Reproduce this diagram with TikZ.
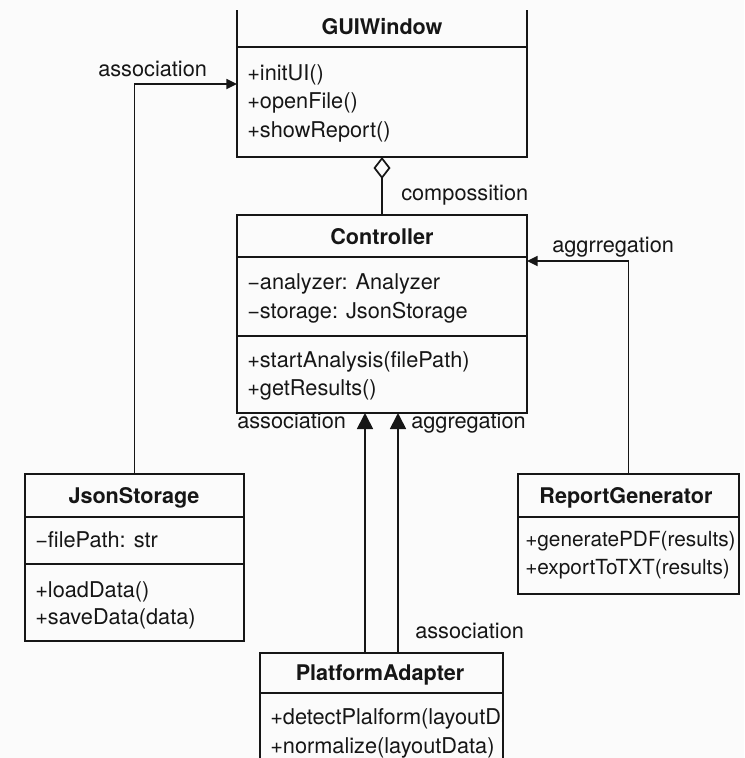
\documentclass[tikz,border=0pt]{standalone}
\usepackage{fontspec}
\setmainfont{TeX Gyre Heros}
\usetikzlibrary{arrows.meta}
\definecolor{ink}{HTML}{161616}
\definecolor{paper}{HTML}{FBFBFB}
\begin{document}
\begin{tikzpicture}[x=0.75pt,y=-0.75pt,
  font=\fontsize{16.3}{19}\selectfont,
  box/.style={draw=ink, line width=1.3pt, inner sep=0pt, outer sep=0pt, anchor=north west},
  openbox/.style={inner sep=0pt, outer sep=0pt, anchor=north west},
  rule/.style={draw=ink, line width=1.2pt},
  member/.style={anchor=base west, inner sep=0pt, text=ink},
  title/.style={anchor=base, inner sep=0pt, text=ink, font=\fontsize{16.2}{19}\selectfont\bfseries},
  lbl/.style={anchor=base west, inner sep=0pt, text=ink},
  link/.style={draw=ink, line width=1.3pt},
  head/.style={link, -{Triangle[length=8pt,width=7.5pt]}},
  bighead/.style={link, -{Triangle[length=12pt,width=12pt]}},
  comp/.style={link, -{Diamond[open,length=16.5pt,width=12.75pt]}}]

\useasboundingbox (0,0) rectangle (744,758);
\fill[paper] (0,0) rectangle (744,758);
\clip (0,0) rectangle (744,758);

% ---- GUIWindow (top edge runs off the sheet) ----
\node[openbox, minimum width=217.5pt, minimum height=110.25pt] (gui) at (237,10) {};
\draw[rule, line width=1.3pt] (gui.north west) -- (gui.south west) -- (gui.south east) -- (gui.north east);
\draw[rule] (gui.west |- 0,47) -- (gui.east |- 0,47);
\node[title] (guiT) at (382,34) {GUIWindow};
\node[member] (gui1) at (247,80) {+initUI()};
\node[member] (gui2) at (247,108) {+openFile()};
\node[member] (gui3) at (247,137) {+showReport()};

% ---- Controller ----
\node[box, minimum width=217.5pt, minimum height=148.5pt] (ctrl) at (237,215) {};
\draw[rule] (ctrl.west |- 0,257) -- (ctrl.east |- 0,257);
\draw[rule] (ctrl.west |- 0,336) -- (ctrl.east |- 0,336);
\node[title] (ctrlT) at (382,244) {Controller};
\node[member] (ctrl1) at (247,289) {−analyzer: Analyzer};
\node[member] (ctrl2) at (247,318) {−storage: JsonStorage};
\node[member] (ctrl3) at (247,367) {+startAnalysis(filePath)};
\node[member] (ctrl4) at (247,395) {+getResults()};

% ---- JsonStorage ----
\node[box, minimum width=164.25pt, minimum height=125.25pt] (js) at (25,474) {};
\draw[rule] (js.west |- 0,517) -- (js.east |- 0,517);
\draw[rule] (js.west |- 0,564) -- (js.east |- 0,564);
\node[title] (jsT) at (134,503) {JsonStorage};
\node[member] (js1) at (35,547) {−filePath: str};
\node[member] (js2) at (35,597) {+loadData()};
\node[member] (js3) at (35,624) {+saveData(data)};

% ---- ReportGenerator ----
\node[box, minimum width=165.75pt, minimum height=90pt] (rg) at (518,474) {};
\draw[rule] (rg.west |- 0,517) -- (rg.east |- 0,517);
\node[title] (rgT) at (626,503) {ReportGenerator};
\node[member, font=\fontsize{15.6}{19}\selectfont] (rg1) at (525,546) {+generatePDF(results)};
\node[member, font=\fontsize{15.6}{19}\selectfont] (rg2) at (525,574) {+exportToTXT(results)};

% ---- PlatformAdapter (bottom edge runs off the sheet) ----
\node[openbox, minimum width=182.25pt, minimum height=82.5pt] (pa) at (260,653) {};
\draw[rule, line width=1.3pt] (pa.south west) -- (pa.north west) -- (pa.north east) -- (pa.south east);
\draw[rule] (pa.west |- 0,693) -- (pa.east |- 0,693);
\node[title] (paT) at (380,680) {PlatformAdapter};
\begin{scope}
  \clip (pa.north west) rectangle (pa.south east);
  \node[member] (pa1) at (270,724) {+detectPlalform(layoutData)};
\end{scope}
\node[member] (pa2) at (270,753) {+normalize(layoutData)};

% ---- connectors ----
\draw[head] (js.north) |- (gui.west |- 0,84);
\node[lbl] (l1) at (98,76) {association};

\draw[comp] (ctrl.north) -- (gui.south);
\node[lbl] (l2) at (401,200) {compossition};

\draw[head] (rg.north) |- (ctrl.east |- 0,261);
\node[lbl] (l3) at (552,252) {aggrregation};

\draw[bighead] (pa.north -| 365,0) -- (ctrl.south -| 365,0);
\draw[bighead] (pa.north -| 398,0) -- (ctrl.south -| 398,0);
\node[lbl] (l4) at (237,428) {association};
\node[lbl] (l5) at (411,428) {aggregation};
\node[lbl] (l6) at (415,638) {association};

\end{tikzpicture}
\end{document}
